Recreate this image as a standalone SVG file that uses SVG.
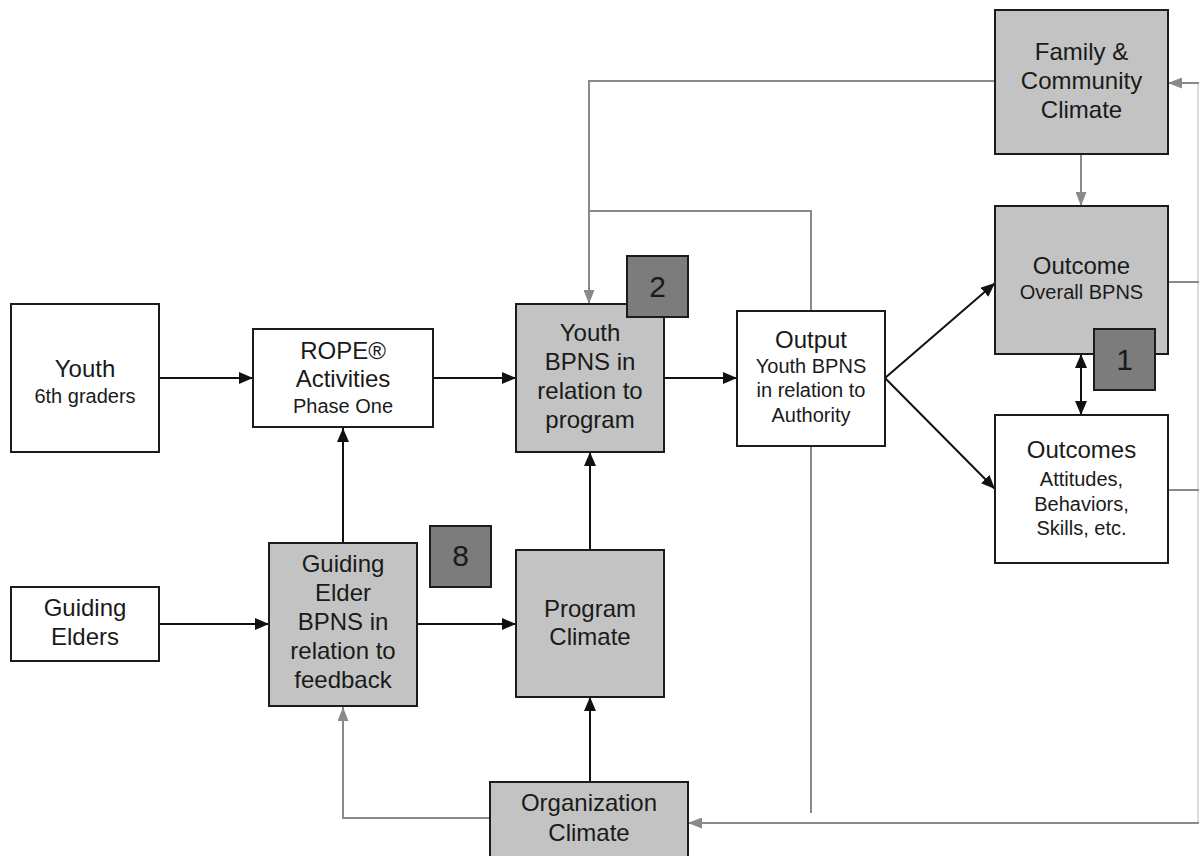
<svg xmlns="http://www.w3.org/2000/svg" width="1199" height="856" viewBox="0 0 1199 856">
<style>
.box{stroke:#1c1c1c;stroke-width:2}
.w{fill:#ffffff}
.g{fill:#c3c3c3}
.b{fill:#7c7c7c}
.t{font-family:"Liberation Sans",Arial,sans-serif;fill:#1a1a1a;text-anchor:middle}
.L{font-size:24px}
.S{font-size:20px}
.N{font-size:30px}
.k{fill:none;stroke:#111;stroke-width:2}
.gr{fill:none;stroke:#8a8a8a;stroke-width:2}
</style>
<defs>
<marker id="ak" markerUnits="userSpaceOnUse" markerWidth="14" markerHeight="12" refX="14" refY="6" orient="auto-start-reverse">
<path d="M0,0 L14,6 L0,12 z" fill="#111"/>
</marker>
<marker id="ag" markerUnits="userSpaceOnUse" markerWidth="14" markerHeight="11" refX="14" refY="5.5" orient="auto">
<path d="M0,0 L14,5.5 L0,11 z" fill="#8a8a8a"/>
</marker>
</defs>
<rect width="1199" height="856" fill="#ffffff"/>
<g id="connectors">
<path class="gr" d="M1198,83 V823" stroke-opacity="0.3"/>
<path class="gr" d="M995,81 H589 V304" marker-end="url(#ag)"/>
<path class="gr" d="M589,211 H811 V813"/>
<path class="gr" d="M1199,83 H1168" marker-end="url(#ag)"/>
<path class="gr" d="M1081,154 V206" marker-end="url(#ag)"/>
<path class="gr" d="M1168,282 H1199"/>
<path class="gr" d="M1168,490 H1199"/>
<path class="gr" d="M1199,823 H688" marker-end="url(#ag)"/>
<path class="gr" d="M490,818 H343 V707" marker-end="url(#ag)"/>
<path class="k" d="M159,378 H253" marker-end="url(#ak)"/>
<path class="k" d="M433,378 H516" marker-end="url(#ak)"/>
<path class="k" d="M664,378 H737" marker-end="url(#ak)"/>
<path class="k" d="M885,378 L995,283" marker-end="url(#ak)"/>
<path class="k" d="M885,378 L995,489" marker-end="url(#ak)"/>
<path class="k" d="M1081,354 V415" marker-start="url(#ak)" marker-end="url(#ak)"/>
<path class="k" d="M159,624 H269" marker-end="url(#ak)"/>
<path class="k" d="M417,624 H516" marker-end="url(#ak)"/>
<path class="k" d="M343,543 V428" marker-end="url(#ak)"/>
<path class="k" d="M590,550 V452" marker-end="url(#ak)"/>
<path class="k" d="M590,782 V697" marker-end="url(#ak)"/>
</g>
<g id="family">
<rect class="box g" x="995" y="10" width="173" height="144"/>
<text class="t L" x="1081.5" y="60">Family &amp;</text>
<text class="t L" x="1081.5" y="89">Community</text>
<text class="t L" x="1081.5" y="118">Climate</text>
</g>
<g id="outcome">
<rect class="box g" x="995" y="206" width="173" height="148"/>
<text class="t L" x="1081.5" y="274">Outcome</text>
<text class="t S" x="1081.5" y="299">Overall BPNS</text>
</g>
<g id="badge1">
<rect class="box b" x="1094" y="329" width="61" height="61"/>
<text class="t N" x="1124.5" y="370">1</text>
</g>
<g id="outcomes">
<rect class="box w" x="995" y="415" width="173" height="148"/>
<text class="t L" x="1081.5" y="458">Outcomes</text>
<text class="t S" x="1081.5" y="486">Attitudes,</text>
<text class="t S" x="1081.5" y="511">Behaviors,</text>
<text class="t S" x="1081.5" y="535">Skills, etc.</text>
</g>
<g id="output">
<rect class="box w" x="737" y="311" width="148" height="135"/>
<text class="t L" x="811" y="348">Output</text>
<text class="t S" x="811" y="373">Youth BPNS</text>
<text class="t S" x="811" y="397">in relation to</text>
<text class="t S" x="811" y="422">Authority</text>
</g>
<g id="youth">
<rect class="box w" x="11" y="304" width="148" height="148"/>
<text class="t L" x="85" y="377">Youth</text>
<text class="t S" x="85" y="403">6th graders</text>
</g>
<g id="rope">
<rect class="box w" x="253" y="329" width="180" height="98"/>
<text class="t L" x="343" y="359">ROPE®</text>
<text class="t L" x="343" y="387">Activities</text>
<text class="t S" x="343" y="413">Phase One</text>
</g>
<g id="youth-bpns">
<rect class="box g" x="516" y="304" width="148" height="148"/>
<text class="t L" x="590" y="341">Youth</text>
<text class="t L" x="590" y="370">BPNS in</text>
<text class="t L" x="590" y="399">relation to</text>
<text class="t L" x="590" y="428">program</text>
</g>
<g id="badge2">
<rect class="box b" x="627" y="256" width="61" height="61"/>
<text class="t N" x="657.5" y="297">2</text>
</g>
<g id="guiding-elders">
<rect class="box w" x="11" y="587" width="148" height="74"/>
<text class="t L" x="85" y="616">Guiding</text>
<text class="t L" x="85" y="645">Elders</text>
</g>
<g id="guiding-elder-bpns">
<rect class="box g" x="269" y="543" width="148" height="163"/>
<text class="t L" x="343" y="572">Guiding</text>
<text class="t L" x="343" y="601">Elder</text>
<text class="t L" x="343" y="630">BPNS in</text>
<text class="t L" x="343" y="659">relation to</text>
<text class="t L" x="343" y="688">feedback</text>
</g>
<g id="badge8">
<rect class="box b" x="430" y="526" width="61" height="61"/>
<text class="t N" x="460.5" y="566">8</text>
</g>
<g id="program-climate">
<rect class="box g" x="516" y="550" width="148" height="147"/>
<text class="t L" x="590" y="617">Program</text>
<text class="t L" x="590" y="645">Climate</text>
</g>
<g id="organization-climate">
<rect class="box g" x="490" y="782" width="198" height="90"/>
<text class="t L" x="589" y="811">Organization</text>
<text class="t L" x="589" y="841">Climate</text>
</g>
</svg>
